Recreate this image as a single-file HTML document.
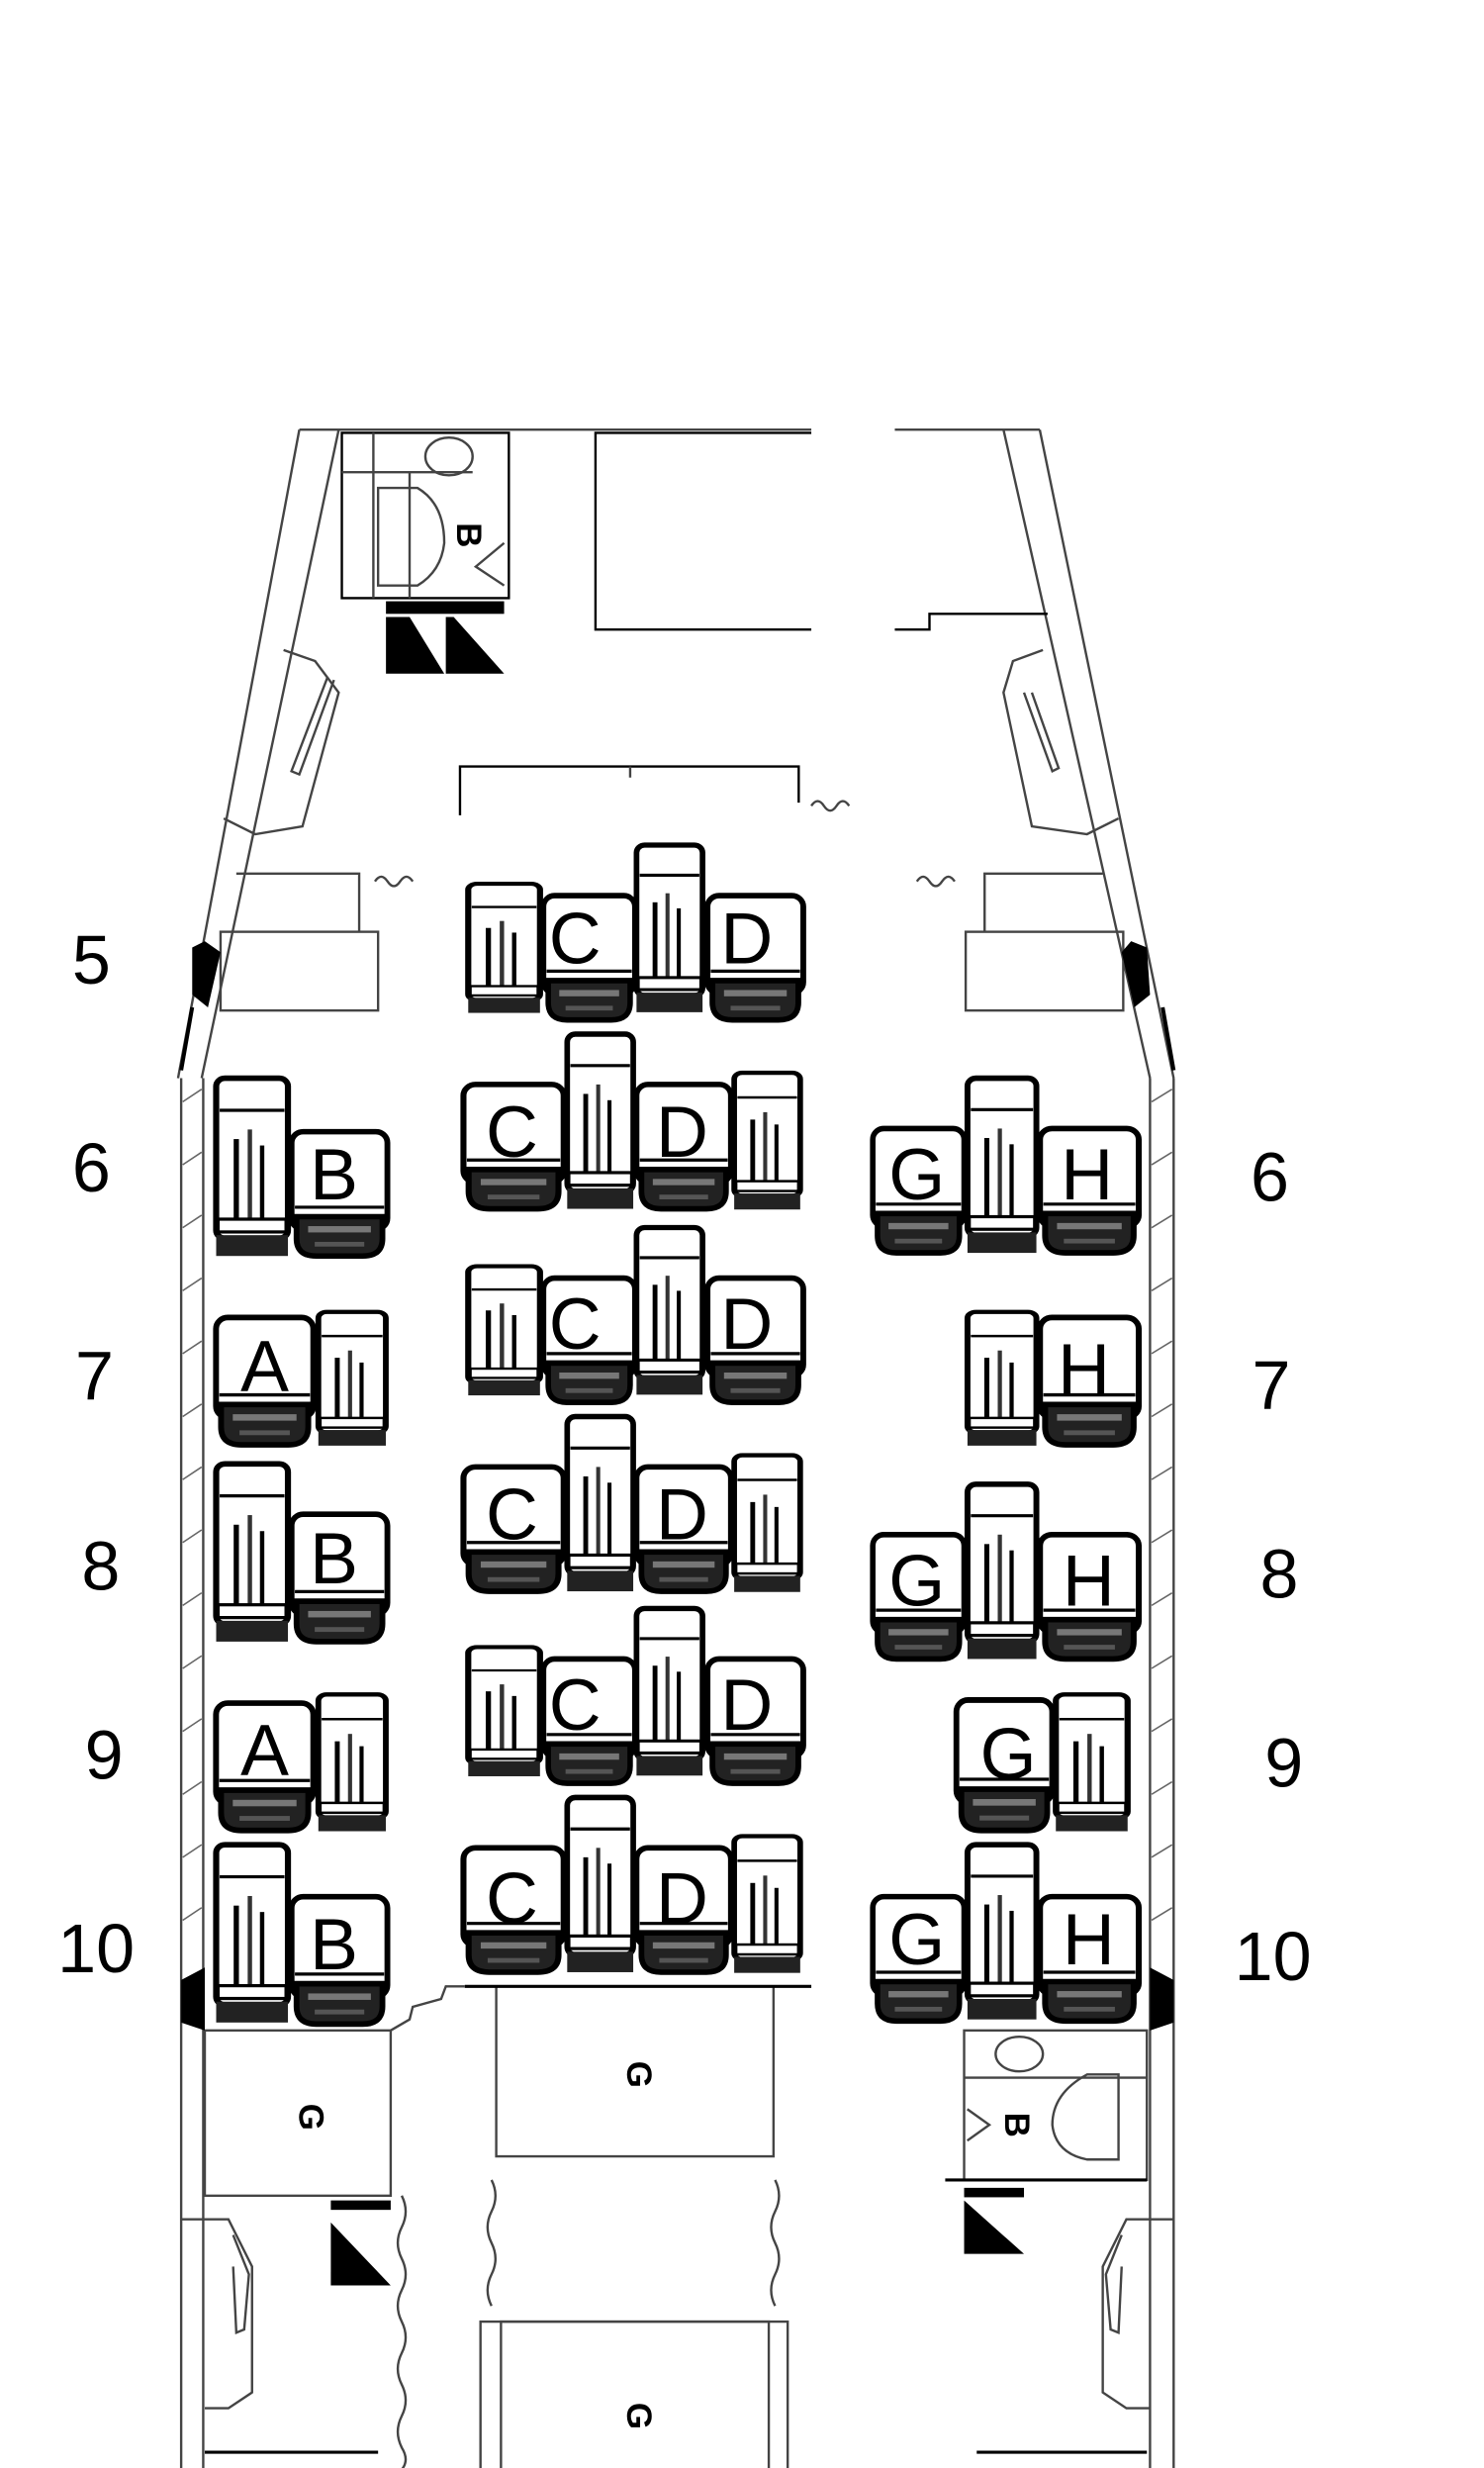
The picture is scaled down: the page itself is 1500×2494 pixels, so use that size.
<!DOCTYPE html>
<html><head><meta charset="utf-8"><style>
html,body{margin:0;padding:0;background:#fff;}
svg{display:block;}
text{font-family:"Liberation Sans",Arial,sans-serif;}
</style></head><body>
<svg width="1500" height="2494" viewBox="0 0 942 1568" preserveAspectRatio="none" xmlns="http://www.w3.org/2000/svg">
<defs>
<symbol id="seat" viewBox="0 0 62 83" preserveAspectRatio="none">
  <rect x="2" y="2" width="58" height="62" rx="7" fill="#fff" stroke="#000" stroke-width="3.5"/>
  <line x1="4" y1="50" x2="58" y2="50" stroke="#000" stroke-width="2"/>
  <path d="M5 56 L57 56 L57 70 Q57 81 45 81 L17 81 Q5 81 5 70 Z" fill="#222" stroke="#000" stroke-width="3.5"/>
  <rect x="12" y="62" width="38" height="4" fill="#777"/>
  <rect x="16" y="72" width="30" height="3" fill="#555"/>
</symbol>
<symbol id="cons" viewBox="0 0 45 115" preserveAspectRatio="none">
  <rect x="2" y="2" width="41" height="100" rx="5" fill="#fff" stroke="#000" stroke-width="3.5"/>
  <line x1="4" y1="22" x2="41" y2="22" stroke="#000" stroke-width="2"/>
  <rect x="12" y="40" width="3" height="50" fill="#000"/>
  <rect x="20" y="34" width="2.5" height="56" fill="#333"/>
  <rect x="27" y="44" width="2.5" height="46" fill="#000"/>
  <rect x="3" y="90" width="39" height="8" fill="#fff" stroke="#000" stroke-width="2"/>
  <rect x="2" y="100" width="41" height="13" fill="#222"/>
</symbol>
</defs>

<g fill="none" stroke="#444" stroke-width="1.5">
  <line x1="190" y1="273" x2="515" y2="273"/>
  <line x1="568" y1="273" x2="660" y2="273"/>
  <line x1="190" y1="273" x2="113" y2="685"/>
  <line x1="215" y1="273" x2="128" y2="685"/>
  <line x1="115" y1="685" x2="115" y2="1568"/>
  <line x1="129" y1="685" x2="129" y2="1568"/>
  <line x1="660" y1="273" x2="745" y2="685"/>
  <line x1="637" y1="273" x2="730" y2="685"/>
  <line x1="745" y1="685" x2="745" y2="1568"/>
  <line x1="730" y1="685" x2="730" y2="1568"/>
  <rect x="217" y="275" width="106" height="105" stroke="#000"/>
  <line x1="237" y1="275" x2="237" y2="380"/>
  <line x1="217" y1="300" x2="300" y2="300"/>
  <line x1="260" y1="300" x2="260" y2="380"/>
  <ellipse cx="285" cy="290" rx="15" ry="12"/>
  <path d="M240 320 L265 320 Q282 330 282 355 Q280 373 265 382 L240 382 Z" transform="translate(0,-10)"/>
  <path d="M320 345 L302 360 L320 372"/>
  <path d="M515 275 L378 275 L378 400 L515 400" stroke="#000"/>
  <path d="M568 400 L590 400 L590 390 L665 390" stroke="#000"/>
  <path d="M180 413 L200 420 L215 440 L192 525 L162 530 L142 520"/>
  <path d="M208 430 L185 490 L190 492 L212 432"/>
  <path d="M662 413 L643 420 L637 440 L655 525 L690 530 L710 520"/>
  <path d="M650 440 L668 490 L672 488 L655 440"/>
  <path d="M150 555 L228 555 L228 592"/>
  <rect x="140" y="592" width="100" height="50"/>
  <path d="M700 555 L625 555 L625 592"/>
  <rect x="613" y="592" width="100" height="50"/>
  <path d="M238 560 q4 -6 8 0 q4 6 8 0 q4 -6 8 0" />
  <path d="M582 560 q4 -6 8 0 q4 6 8 0 q4 -6 8 0" />
  <path d="M292 518 L292 487 L507 487 L507 510" stroke="#000"/>
  <line x1="400" y1="487" x2="400" y2="494"/>
  <path d="M515 512 q4 -6 8 0 q4 6 8 0 q4 -6 8 0" />
  <rect x="130" y="1290" width="118" height="105"/>
  <rect x="315" y="1262" width="176" height="108"/>
  <line x1="295" y1="1262" x2="515" y2="1262" stroke="#000" stroke-width="2"/>
  <rect x="305" y="1475" width="195" height="100"/>
  <rect x="318" y="1475" width="170" height="100"/>
  <path d="M248 1290 L260 1283 L262 1275 L280 1270 L283 1262 L295 1262"/>
  <rect x="612" y="1290" width="116" height="95"/>
  <line x1="600" y1="1385" x2="728" y2="1385" stroke="#000" stroke-width="2"/>
  <ellipse cx="647" cy="1305" rx="15" ry="11"/>
  <path d="M710 1318 L690 1318 Q668 1330 668 1350 Q670 1368 690 1372 L710 1372 Z"/>
  <path d="M614 1340 L628 1350 L614 1360"/>
  <line x1="612" y1="1320" x2="728" y2="1320"/>
  <path d="M130 1410 L145 1410 L160 1440 L160 1520 L145 1530 L130 1530"/>
  <path d="M148 1420 L158 1445 L155 1480 L150 1482 L148 1440"/>
  <path d="M730 1410 L715 1410 L700 1440 L700 1520 L715 1530 L730 1530"/>
  <path d="M712 1420 L702 1445 L705 1480 L710 1482 L712 1440"/>
  <line x1="115" y1="1410" x2="130" y2="1410"/><line x1="730" y1="1410" x2="745" y2="1410"/>
  <line x1="130" y1="1558" x2="240" y2="1558" stroke="#000" stroke-width="2"/>
  <line x1="620" y1="1558" x2="728" y2="1558" stroke="#000" stroke-width="2"/>
  <path d="M255 1395 q5 10 0 20 q-5 10 0 20 q5 10 0 20 q-5 10 0 20 q5 10 0 20 q-5 10 0 20 q5 10 0 20 q-5 10 0 20 q5 8 0 14"/>
  <path d="M312 1385 q5 10 0 20 q-5 10 0 20 q5 10 0 20 q-5 10 0 20"/>
  <path d="M492 1385 q5 10 0 20 q-5 10 0 20 q5 10 0 20 q-5 10 0 20"/>
</g>
<g stroke="#666" stroke-width="1">
  <path d="M116 700 L128 692 M116 740 L128 732 M116 780 L128 772 M116 820 L128 812 M116 860 L128 852 M116 900 L128 892 M116 940 L128 932 M116 980 L128 972 M116 1020 L128 1012 M116 1060 L128 1052 M116 1100 L128 1092 M116 1140 L128 1132 M116 1180 L128 1172 M116 1220 L128 1212"/>
  <path d="M731 700 L744 692 M731 740 L744 732 M731 780 L744 772 M731 820 L744 812 M731 860 L744 852 M731 900 L744 892 M731 940 L744 932 M731 980 L744 972 M731 1020 L744 1012 M731 1060 L744 1052 M731 1100 L744 1092 M731 1140 L744 1132 M731 1180 L744 1172 M731 1220 L744 1212"/>
</g>
<g fill="#000">
  <rect x="245" y="382" width="75" height="8"/>
  <path d="M245 392 L260 392 L282 428 L245 428 Z"/>
  <path d="M283 392 L288 392 L320 428 L283 428 Z"/>
  <path d="M210 1412 L248 1452 L210 1452 Z"/>
  <rect x="210" y="1398" width="38" height="6"/>
  <path d="M612 1398 L650 1432 L612 1432 Z"/>
  <rect x="612" y="1390" width="38" height="6"/>
  <path d="M122 602 L130 598 L140 605 L132 640 L122 632 Z"/>
  <path d="M718 598 L728 602 L730 632 L720 640 L712 605 Z"/>
  <path d="M115 1258 L130 1250 L130 1290 L115 1285 Z"/>
  <path d="M745 1258 L730 1250 L730 1290 L745 1285 Z"/>
</g>
<g stroke="#000" stroke-width="2.5">
  <line x1="115" y1="680" x2="122" y2="640"/>
  <line x1="745" y1="680" x2="738" y2="640"/>
</g>

<g>
  <use href="#cons" x="295" y="560" width="50" height="85"/>
  <use href="#seat" x="343" y="567" width="62" height="83"/>
  <use href="#cons" x="402" y="535" width="46" height="110"/>
  <use href="#seat" x="447" y="567" width="65" height="83"/>

  <use href="#cons" x="295" y="803" width="50" height="85"/>
  <use href="#seat" x="343" y="810" width="62" height="83"/>
  <use href="#cons" x="402" y="778" width="46" height="110"/>
  <use href="#seat" x="447" y="810" width="65" height="83"/>

  <use href="#cons" x="295" y="1045" width="50" height="85"/>
  <use href="#seat" x="343" y="1052" width="62" height="83"/>
  <use href="#cons" x="402" y="1020" width="46" height="110"/>
  <use href="#seat" x="447" y="1052" width="65" height="83"/>
</g>
<g>
  <use href="#seat" x="292" y="687" width="68" height="83"/>
  <use href="#cons" x="358" y="655" width="46" height="115"/>
  <use href="#seat" x="402" y="687" width="64" height="83"/>
  <use href="#cons" x="464" y="680" width="46" height="90"/>

  <use href="#seat" x="292" y="930" width="68" height="83"/>
  <use href="#cons" x="358" y="898" width="46" height="115"/>
  <use href="#seat" x="402" y="930" width="64" height="83"/>
  <use href="#cons" x="464" y="923" width="46" height="90"/>

  <use href="#seat" x="292" y="1172" width="68" height="83"/>
  <use href="#cons" x="358" y="1140" width="46" height="115"/>
  <use href="#seat" x="402" y="1172" width="64" height="83"/>
  <use href="#cons" x="464" y="1165" width="46" height="90"/>
</g>
<g>
  <use href="#cons" x="135" y="683" width="50" height="117"/>
  <use href="#seat" x="183" y="717" width="65" height="83"/>
  <use href="#seat" x="135" y="835" width="66" height="85"/>
  <use href="#cons" x="200" y="832" width="47" height="88"/>
  <use href="#cons" x="135" y="928" width="50" height="117"/>
  <use href="#seat" x="183" y="960" width="65" height="85"/>
  <use href="#seat" x="135" y="1080" width="66" height="85"/>
  <use href="#cons" x="200" y="1075" width="47" height="90"/>
  <use href="#cons" x="135" y="1170" width="50" height="117"/>
  <use href="#seat" x="183" y="1203" width="65" height="85"/>
</g>
<g>
  <use href="#seat" x="552" y="715" width="62" height="83"/>
  <use href="#cons" x="612" y="683" width="48" height="115"/>
  <use href="#seat" x="658" y="715" width="67" height="83"/>
  <use href="#cons" x="612" y="832" width="48" height="88"/>
  <use href="#seat" x="658" y="835" width="67" height="85"/>
  <use href="#seat" x="552" y="973" width="62" height="83"/>
  <use href="#cons" x="612" y="941" width="48" height="115"/>
  <use href="#seat" x="658" y="973" width="67" height="83"/>
  <use href="#seat" x="605" y="1078" width="65" height="87"/>
  <use href="#cons" x="668" y="1075" width="50" height="90"/>
  <use href="#seat" x="552" y="1203" width="62" height="83"/>
  <use href="#cons" x="612" y="1170" width="48" height="115"/>
  <use href="#seat" x="658" y="1203" width="67" height="83"/>
</g>

<g font-size="46" text-anchor="middle" fill="#000">
  <text x="365" y="612">C</text><text x="474" y="612">D</text>
  <text x="325" y="735">C</text><text x="433" y="735">D</text>
  <text x="365" y="857">C</text><text x="474" y="857">D</text>
  <text x="325" y="978">C</text><text x="433" y="978">D</text>
  <text x="365" y="1099">C</text><text x="474" y="1099">D</text>
  <text x="325" y="1222">C</text><text x="433" y="1222">D</text>
  <text x="212" y="762">B</text><text x="168" y="884">A</text>
  <text x="212" y="1006">B</text><text x="168" y="1128">A</text>
  <text x="212" y="1251">B</text>
  <text x="582" y="762">G</text><text x="690" y="762">H</text>
  <text x="688" y="886">H</text>
  <text x="582" y="1020">G</text><text x="691" y="1020">H</text>
  <text x="640" y="1130">G</text>
  <text x="582" y="1248">G</text><text x="691" y="1248">H</text>
</g>
<g font-size="44" text-anchor="middle" fill="#000">
  <text x="58" y="625">5</text><text x="58" y="757">6</text>
  <text x="60" y="889">7</text><text x="64" y="1010">8</text>
  <text x="66" y="1130">9</text><text x="61" y="1253">10</text>
  <text x="806" y="763">6</text><text x="807" y="895">7</text>
  <text x="812" y="1015">8</text><text x="815" y="1135">9</text>
  <text x="808" y="1258">10</text>
</g>
<g font-size="22" font-weight="bold" text-anchor="middle" fill="#000">
  <text transform="translate(190,1345) rotate(90)">G</text>
  <text transform="translate(398,1318) rotate(90)">G</text>
  <text transform="translate(398,1535) rotate(90)">G</text>
  <text transform="translate(290,340) rotate(90)">B</text>
  <text transform="translate(638,1350) rotate(90)">B</text>
</g>
</svg>
</body></html>
